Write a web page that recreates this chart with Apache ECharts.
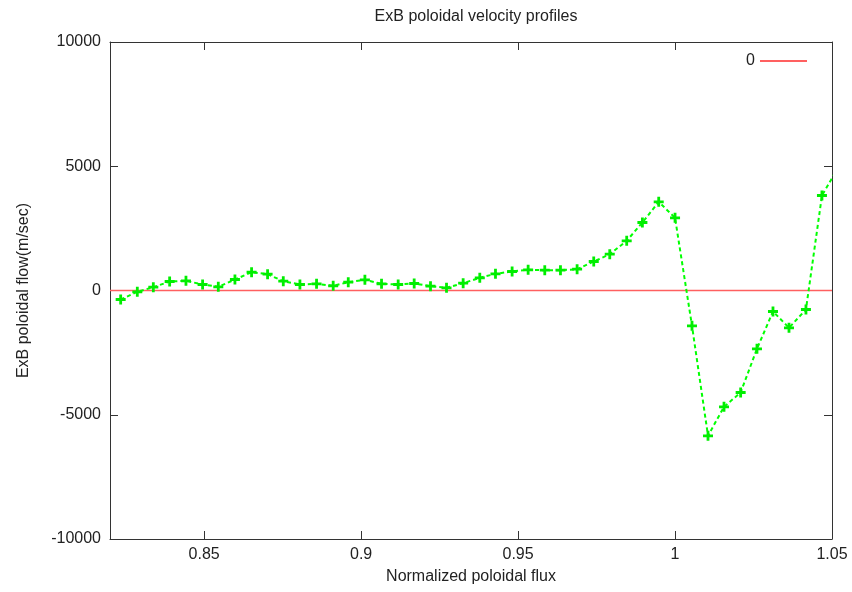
<!DOCTYPE html>
<html>
<head>
<meta charset="utf-8">
<script src="https://cdn.jsdelivr.net/npm/echarts@6/dist/echarts.min.js"></script>
<style>
html,body{margin:0;padding:0;background:#fff;}
#c{width:852px;height:592px;}
</style>
</head>
<body>
<div id="c"></div>
<script>
const titleText = 'ExB poloidal velocity profiles';
const xName = 'Normalized poloidal flux';
const yName = 'ExB poloidal flow(m/sec)';
const xTicks = [0.85, 0.9, 0.95, 1, 1.05];
const yTicks = [-10000, -5000, 0, 5000, 10000];
const flux = [0.8234, 0.8287, 0.8338, 0.8390, 0.8442, 0.8495, 0.8545, 0.8598, 0.8651, 0.8702,
  0.8752, 0.8805, 0.8858, 0.8911, 0.8959, 0.9012, 0.9065, 0.9118, 0.9169, 0.9221,
  0.9272, 0.9325, 0.9378, 0.9428, 0.9481, 0.9532, 0.9585, 0.9635, 0.9688, 0.9741,
  0.9792, 0.9846, 0.9896, 0.9948, 1.0000, 1.0054, 1.0105, 1.0156, 1.0209, 1.0261,
  1.0312, 1.0363, 1.0417, 1.0468, 1.0520];
const velocity = [-362, -52, 133, 362, 390, 241, 149, 443, 736, 656,
  374, 241, 270, 189, 334, 431, 270, 241, 282, 173,
  109, 294, 511, 672, 765, 833, 817, 817, 857, 1167,
  1461, 2000, 2736, 3569, 2925, -1420, -5847, -4680, -4104, -2346,
  -845, -1501, -765, 3823, 4950];
const zeroX = [0.82, 1.05];
const zeroY = [0, 0];
const zeroName = '0';

const chart = echarts.init(document.getElementById('c'));
const font = "'Liberation Sans', Arial, sans-serif";
const axisColor = '#333';
const plusPath = 'path://M3.6,0H6.4V3.6H10V6.4H6.4V10H3.6V6.4H0V3.6H3.6Z';

function xAxisDef(pos, show) {
  return {
    type: 'value', position: pos, min: 0.82, max: 1.05,
    name: show ? xName : '', nameLocation: 'middle', nameGap: 30,
    nameTextStyle: {fontFamily: font, fontSize: 16, color: '#222'},
    axisLine: {show: true, onZero: false, lineStyle: {color: axisColor, width: 1}},
    axisTick: {show: true, inside: true, length: 8, customValues: xTicks, lineStyle: {color: axisColor}},
    axisLabel: {show: show, customValues: xTicks, margin: 8, fontFamily: font, fontSize: 16, color: '#222',
      formatter: v => String(v)},
    splitLine: {show: false}
  };
}
function yAxisDef(pos, show) {
  return {
    type: 'value', position: pos, min: -10000, max: 10000, interval: 5000,
    name: show ? yName : '', nameLocation: 'middle', nameGap: 78,
    nameTextStyle: {fontFamily: font, fontSize: 16, color: '#222'},
    axisLine: {show: true, onZero: false, lineStyle: {color: axisColor, width: 1}},
    axisTick: {show: true, inside: true, length: 8, customValues: yTicks, lineStyle: {color: axisColor}},
    axisLabel: {show: show, customValues: yTicks, margin: 9, fontFamily: font, fontSize: 16, color: '#222',
      formatter: v => String(v)},
    splitLine: {show: false}
  };
}

chart.setOption({
  animation: false,
  backgroundColor: '#fff',
  title: {
    text: titleText, left: 471, textAlign: 'center', top: 4,
    textStyle: {fontFamily: font, fontSize: 16, fontWeight: 'normal', color: '#222'}
  },
  legend: {
    data: [zeroName], right: 40, top: 48, align: 'right',
    icon: 'rect', itemWidth: 47, itemHeight: 2, itemGap: 10,
    textStyle: {fontFamily: font, fontSize: 16, color: '#222'}
  },
  grid: {left: 110, right: 20, top: 42, bottom: 53, containLabel: false},
  xAxis: [xAxisDef('bottom', true), xAxisDef('top', false)],
  yAxis: [yAxisDef('left', true), yAxisDef('right', false)],
  series: [
    {
      name: zeroName, type: 'line', xAxisIndex: 0, yAxisIndex: 0,
      data: zeroX.map((x, i) => [x, zeroY[i]]),
      symbol: 'none', color: '#ff6060',
      lineStyle: {color: '#ff6060', width: 1.5}
    },
    {
      name: 'ExB', type: 'line', xAxisIndex: 0, yAxisIndex: 0,
      data: flux.map((x, i) => [x, velocity[i]]),
      symbol: plusPath, symbolSize: 10, clip: true,
      color: '#00ff00',
      itemStyle: {color: '#00ee00'},
      lineStyle: {color: '#00ff00', width: 2, type: [4, 3]}
    }
  ]
});
</script>
</body>
</html>
